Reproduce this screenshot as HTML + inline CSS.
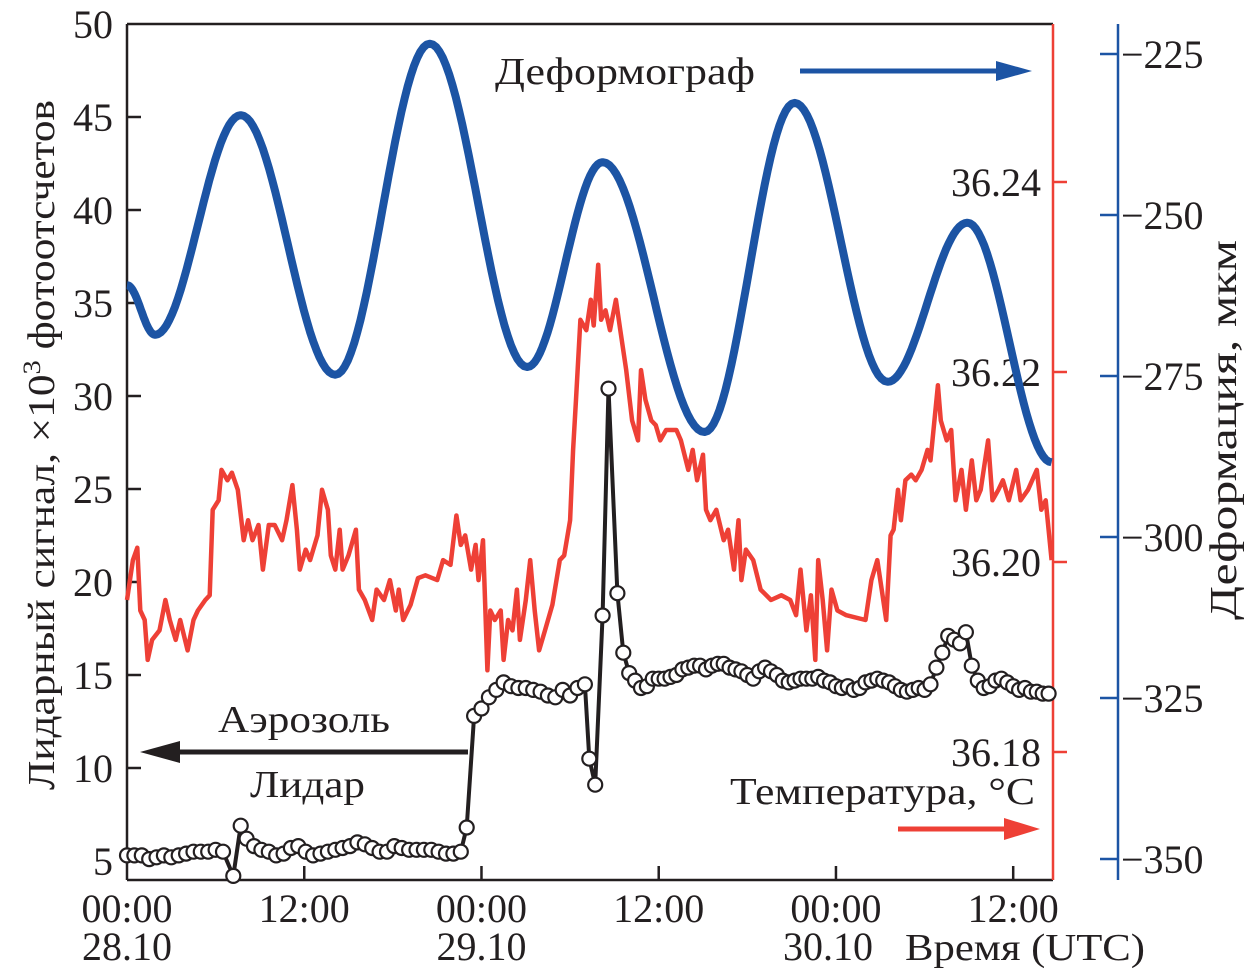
<!DOCTYPE html>
<html><head><meta charset="utf-8"><style>
html,body{margin:0;padding:0;background:#fff;}
svg{display:block;font-family:"Liberation Serif",serif;}
</style></head><body>
<svg id="chart" width="1256" height="973" viewBox="0 0 1256 973">
<g id="axes"></g>
<g id="temp"></g>
<g id="deform"></g>
<g id="lidar"></g>
<g id="annot" font-size="38" fill="#231f20">
<text x="495" y="84" textLength="260" lengthAdjust="spacingAndGlyphs">Деформограф</text>
<line x1="800" y1="71" x2="1005" y2="71" stroke="#1c54a4" stroke-width="5"/>
<polygon points="1032,71 996,61 996,81" fill="#1c54a4"/>
<text x="218" y="732" textLength="172" lengthAdjust="spacingAndGlyphs">Аэрозоль</text>
<line x1="468" y1="752" x2="170" y2="752" stroke="#231f20" stroke-width="5"/>
<polygon points="140,752 180,741 180,763" fill="#231f20"/>
<text x="250" y="797" textLength="115" lengthAdjust="spacingAndGlyphs">Лидар</text>
<text x="730" y="804" textLength="305" lengthAdjust="spacingAndGlyphs">Температура, °C</text>
<line x1="898" y1="829" x2="1010" y2="829" stroke="#ee4036" stroke-width="5"/>
<polygon points="1040,829 1004,818 1004,840" fill="#ee4036"/>
</g>
</svg>
<script>
// ---- data ----
const tempHours=[0,0.4,0.7,0.9,1.2,1.4,1.7,2.2,2.6,2.9,3.3,3.6,4.1,4.5,4.8,5.3,5.6,5.8,6.2,6.4,6.8,7.1,7.5,7.9,8.2,8.5,8.9,9.2,9.6,10.0,10.5,10.8,11.2,11.5,11.7,12.1,12.4,12.9,13.2,13.6,13.8,14.1,14.4,14.6,15.0,15.5,15.7,16.1,16.6,16.9,17.4,17.8,18.2,18.4,18.7,19.2,19.7,20.2,21.0,21.4,21.9,22.3,22.6,22.9,23.3,23.6,23.8,24.1,24.4,24.6,24.9,25.3,25.5,25.8,26.1,26.4,26.6,27.0,27.3,27.6,27.9,28.3,28.8,29.3,29.6,30.0,30.2,30.4,30.7,31.1,31.4,31.6,31.9,32.1,32.4,32.7,33.1,33.4,33.8,34.2,34.6,34.8,35.1,35.5,35.8,36.1,36.5,37.2,37.5,38.0,38.3,38.6,39.0,39.2,39.5,39.9,40.4,40.7,41.1,41.4,41.6,41.9,42.4,42.9,43.6,44.3,44.9,45.3,45.6,46.0,46.3,46.6,46.8,47.1,47.4,47.7,48.1,48.7,50.0,50.4,50.8,51.1,51.4,51.7,51.9,52.2,52.4,52.7,53.1,53.4,53.8,54.2,54.4,54.9,55.1,55.5,55.8,56.1,56.5,56.8,57.2,57.5,57.8,58.3,58.6,59.0,59.3,59.7,60.2,60.5,61.0,61.6,61.9,62.2,62.6];
const tempValues=[36.1960,36.2002,36.2015,36.1949,36.1939,36.1897,36.1918,36.1928,36.1960,36.1939,36.1918,36.1939,36.1907,36.1939,36.1949,36.1960,36.1965,36.2055,36.2065,36.2097,36.2086,36.2094,36.2076,36.2023,36.2044,36.2023,36.2039,36.1992,36.2039,36.2039,36.2023,36.2044,36.2081,36.2034,36.1992,36.2013,36.2002,36.2028,36.2076,36.2055,36.2007,36.1992,36.2034,36.1992,36.2007,36.2034,36.1971,36.1960,36.1939,36.1971,36.1960,36.1981,36.1949,36.1971,36.1939,36.1955,36.1983,36.1986,36.1981,36.2002,36.1997,36.2049,36.2018,36.2028,36.1992,36.2018,36.1981,36.2023,36.1886,36.1949,36.1939,36.1949,36.1897,36.1939,36.1928,36.1971,36.1918,36.1960,36.2002,36.1949,36.1907,36.1928,36.1955,36.2002,36.2007,36.2044,36.2118,36.2171,36.2255,36.2244,36.2276,36.2249,36.2313,36.2255,36.2265,36.2244,36.2276,36.2244,36.2202,36.2149,36.2128,36.2202,36.2171,36.2149,36.2144,36.2128,36.2139,36.2139,36.2128,36.2097,36.2118,36.2086,36.2113,36.2055,36.2044,36.2055,36.2023,36.2034,36.1992,36.2044,36.1981,36.2013,36.2002,36.1971,36.1960,36.1965,36.1960,36.1944,36.1992,36.1928,36.1965,36.1897,36.2002,36.1960,36.1907,36.1971,36.1949,36.1944,36.1939,36.1981,36.2002,36.1971,36.1939,36.2028,36.2034,36.2076,36.2044,36.2086,36.2092,36.2086,36.2097,36.2118,36.2107,36.2186,36.2149,36.2128,36.2139,36.2065,36.2097,36.2055,36.2107,36.2065,36.2076,36.2128,36.2065,36.2076,36.2086,36.2065,36.2097,36.2065,36.2076,36.2097,36.2055,36.2065,36.2002];
const deformHours=[0,1.9,7.7,14.1,20.5,27.1,32.2,39.1,45.2,51.5,56.9,62.6];
const deformValues=[-260.9,-268.6,-234.5,-274.8,-223.4,-273.6,-241.8,-283.7,-232.6,-275.9,-251.2,-288.4];
const lidarHours=[0,0.5,1,1.5,2,2.5,3,3.5,4,4.5,5,5.5,6,6.5,7.2,7.7,8.1,8.6,9.1,9.6,10.1,10.6,11.1,11.6,12.1,12.6,13.1,13.6,14.1,14.6,15.1,15.6,16.1,16.6,17.1,17.6,18.1,18.6,19.1,19.6,20.1,20.6,21.1,21.6,22.1,22.6,23.0,23.5,24.0,24.5,25.0,25.5,26.0,26.5,27.0,27.5,28.0,28.5,29.0,29.5,30.0,30.5,31.0,31.3,31.7,32.2,32.6,33.2,33.6,34.0,34.4,34.8,35.2,35.6,36.0,36.4,36.8,37.2,37.6,38.0,38.4,38.8,39.2,39.6,40.0,40.4,40.8,41.2,41.6,42.0,42.4,42.8,43.2,43.6,44.0,44.4,44.8,45.2,45.6,46.0,46.4,46.8,47.2,47.6,48.0,48.4,48.8,49.2,49.6,50.0,50.4,50.8,51.2,51.6,52.0,52.4,52.8,53.2,53.6,54.0,54.4,54.8,55.2,55.6,56.0,56.4,56.8,57.2,57.6,58.0,58.4,58.8,59.2,59.6,60.0,60.4,60.8,61.2,61.6,62.0,62.4];
const lidarValues=[5.3,5.3,5.3,5.1,5.2,5.3,5.2,5.3,5.4,5.5,5.5,5.5,5.6,5.5,4.2,6.9,6.2,5.8,5.6,5.5,5.3,5.4,5.7,5.8,5.5,5.3,5.4,5.5,5.6,5.7,5.8,6.0,5.9,5.7,5.5,5.5,5.8,5.7,5.6,5.6,5.6,5.6,5.5,5.4,5.4,5.5,6.8,12.8,13.2,13.8,14.2,14.6,14.4,14.3,14.3,14.2,14.1,13.9,13.8,14.2,13.9,14.3,14.5,10.5,9.1,18.2,30.4,19.4,16.2,15.1,14.7,14.3,14.4,14.8,14.8,14.8,14.9,15.0,15.3,15.4,15.5,15.5,15.3,15.5,15.6,15.6,15.4,15.3,15.2,15.0,14.8,15.2,15.4,15.2,15.0,14.7,14.6,14.7,14.8,14.8,14.8,14.9,14.7,14.6,14.4,14.3,14.4,14.2,14.3,14.6,14.7,14.8,14.7,14.6,14.4,14.2,14.1,14.2,14.3,14.2,14.5,15.4,16.2,17.1,16.9,16.7,17.3,15.5,14.7,14.3,14.4,14.7,14.8,14.6,14.4,14.2,14.3,14.1,14.1,14.0,14.0];
const leftTicks=[5,10,15,20,25,30,35,40,45,50];
const tempTicks=[36.18,36.20,36.22,36.24];
const tempTickLabels=["36.18","36.20","36.22","36.24"];
const deformTicks=[-350,-325,-300,-275,-250,-225];
const deformTickLabels=["−350","−325","−300","−275","−250","−225"];
const timeTicks=[0,12,24,36,48,60];
const timeTickLabels=["00:00","12:00","00:00","12:00","00:00","12:00"];
const dateLabels=[[0,"28.10"],[24,"29.10"],[48,"30.10"]];

// ---- scales ----
const X0=127,X1=1053,Y0=24,Y1=880;
const xS=h=>127+h*14.77;
const yL=v=>24+(50-v)*18.6;
const yT=t=>562-(t-36.20)*9500;
const yD=d=>54+(-225-d)*6.44;
const NS="http://www.w3.org/2000/svg";
const FS=40;
function mk(tag,attrs,parent){const e=document.createElementNS(NS,tag);for(const k in attrs)e.setAttribute(k,attrs[k]);parent.appendChild(e);return e;}
const axes=document.getElementById('axes');

let e;
e=mk('line',{x1:X0,y1:Y0,x2:X0,y2:Y1,stroke:'#231f20','stroke-width':2.5},axes);


e=mk('line',{x1:X0,y1:Y1,x2:X1,y2:Y1,stroke:'#231f20','stroke-width':2.5},axes);


e=mk('line',{x1:X0,y1:Y0,x2:X1,y2:Y0,stroke:'#231f20','stroke-width':2.5},axes);


e=mk('line',{x1:X1,y1:Y0,x2:X1,y2:Y1,stroke:'#ee4036','stroke-width':2.5},axes);


e=mk('line',{x1:1118,y1:Y0,x2:1118,y2:Y1,stroke:'#1c54a4','stroke-width':2.5},axes);



leftTicks.forEach(v=>{
  const y=yL(v);
  if(v<50){const t=mk('line',{x1:X0,y1:y,x2:X0+14,y2:y,stroke:'#231f20','stroke-width':2.5},axes);
  
  }
  const l=mk('text',{x:113,y:y+14,'font-size':FS,'text-anchor':'end',fill:'#231f20'},axes);
  l.textContent=v;
  
  
});
tempTicks.forEach((v,i)=>{
  const y=yT(v);
  const t=mk('line',{x1:X1,y1:y,x2:X1+14,y2:y,stroke:'#ee4036','stroke-width':2.5},axes);
  
  
  const l=mk('text',{x:1041,y:y+14,'font-size':FS,'text-anchor':'end',fill:'#231f20'},axes);
  l.textContent=tempTickLabels[i];
  
  
});
deformTicks.forEach((v,i)=>{
  const y=yD(v);
  const t=mk('line',{x1:1100,y1:y,x2:1118,y2:y,stroke:'#1c54a4','stroke-width':2.5},axes);
  
  
  const l=mk('text',{x:1121,y:y+14,'font-size':FS,fill:'#231f20'},axes);
  l.textContent=deformTickLabels[i];
  
  
});
timeTicks.forEach((h,i)=>{
  const x=xS(h);
  if(h>0){const t=mk('line',{x1:x,y1:Y1,x2:x,y2:Y1-14,stroke:'#231f20','stroke-width':2.5},axes);
  
  }
  const l=mk('text',{x:x,y:922,'font-size':FS,'text-anchor':'middle',fill:'#231f20'},axes);
  l.textContent=timeTickLabels[i];
  
  
});
dateLabels.forEach(d=>{
  const l=mk('text',{x:xS(d[0])-(d[0]===48?8:0),y:960,'font-size':FS,'text-anchor':'middle',fill:'#231f20'},axes);
  l.textContent=d[1];
  
  
});
e=mk('text',{x:905,y:960,'font-size':38,fill:'#231f20',textLength:240,lengthAdjust:'spacingAndGlyphs'},axes);
e.textContent='Время (UTC)';


e=mk('text',{x:0,y:0,'font-size':38,'text-anchor':'middle',fill:'#231f20',textLength:690,lengthAdjust:'spacingAndGlyphs',transform:'translate(54,445) rotate(-90)'},axes);
e.innerHTML='Лидарный сигнал, ×10<tspan dy="-14" font-size="25">3</tspan><tspan dy="14"> фотоотсчетов</tspan>';


e=mk('text',{x:0,y:0,'font-size':38,'text-anchor':'middle',fill:'#231f20',textLength:380,lengthAdjust:'spacingAndGlyphs',transform:'translate(1236,430) rotate(-90)'},axes);
e.textContent='Деформация, мкм';



// temperature line
const tg=document.getElementById('temp');
e=mk('polyline',{points:tempHours.map((h,i)=>xS(h).toFixed(1)+','+yT(tempValues[i]).toFixed(1)).join(' '),fill:'none',stroke:'#ee4036','stroke-width':4.5,'stroke-linejoin':'round'},tg);



// deformation smooth line (cosine between extrema)
const dg=document.getElementById('deform');
let pts=[];
for(let i=0;i<deformHours.length-1;i++){
  const h0=deformHours[i],h1=deformHours[i+1],v0=deformValues[i],v1=deformValues[i+1];
  const n=30;
  for(let k=0;k<n;k++){const f=k/n;const w=(1-Math.cos(Math.PI*f))/2;
    pts.push(xS(h0+(h1-h0)*f).toFixed(1)+','+yD(v0+(v1-v0)*w).toFixed(1));}
}
pts.push(xS(deformHours[deformHours.length-1]).toFixed(1)+','+yD(deformValues[deformValues.length-1]).toFixed(1));
e=mk('polyline',{points:pts.join(' '),fill:'none',stroke:'#1c54a4','stroke-width':8,'stroke-linejoin':'round'},dg);



// lidar
const lg=document.getElementById('lidar');
e=mk('polyline',{points:lidarHours.map((h,i)=>xS(h).toFixed(1)+','+yL(lidarValues[i]).toFixed(1)).join(' '),fill:'none',stroke:'#231f20','stroke-width':4},lg);


lidarHours.forEach((h,i)=>{
  const c=mk('circle',{cx:xS(h).toFixed(1),cy:yL(lidarValues[i]).toFixed(1),r:7,fill:'#fff',stroke:'#231f20','stroke-width':2.2},lg);
  
  
});
</script>
</body></html>
